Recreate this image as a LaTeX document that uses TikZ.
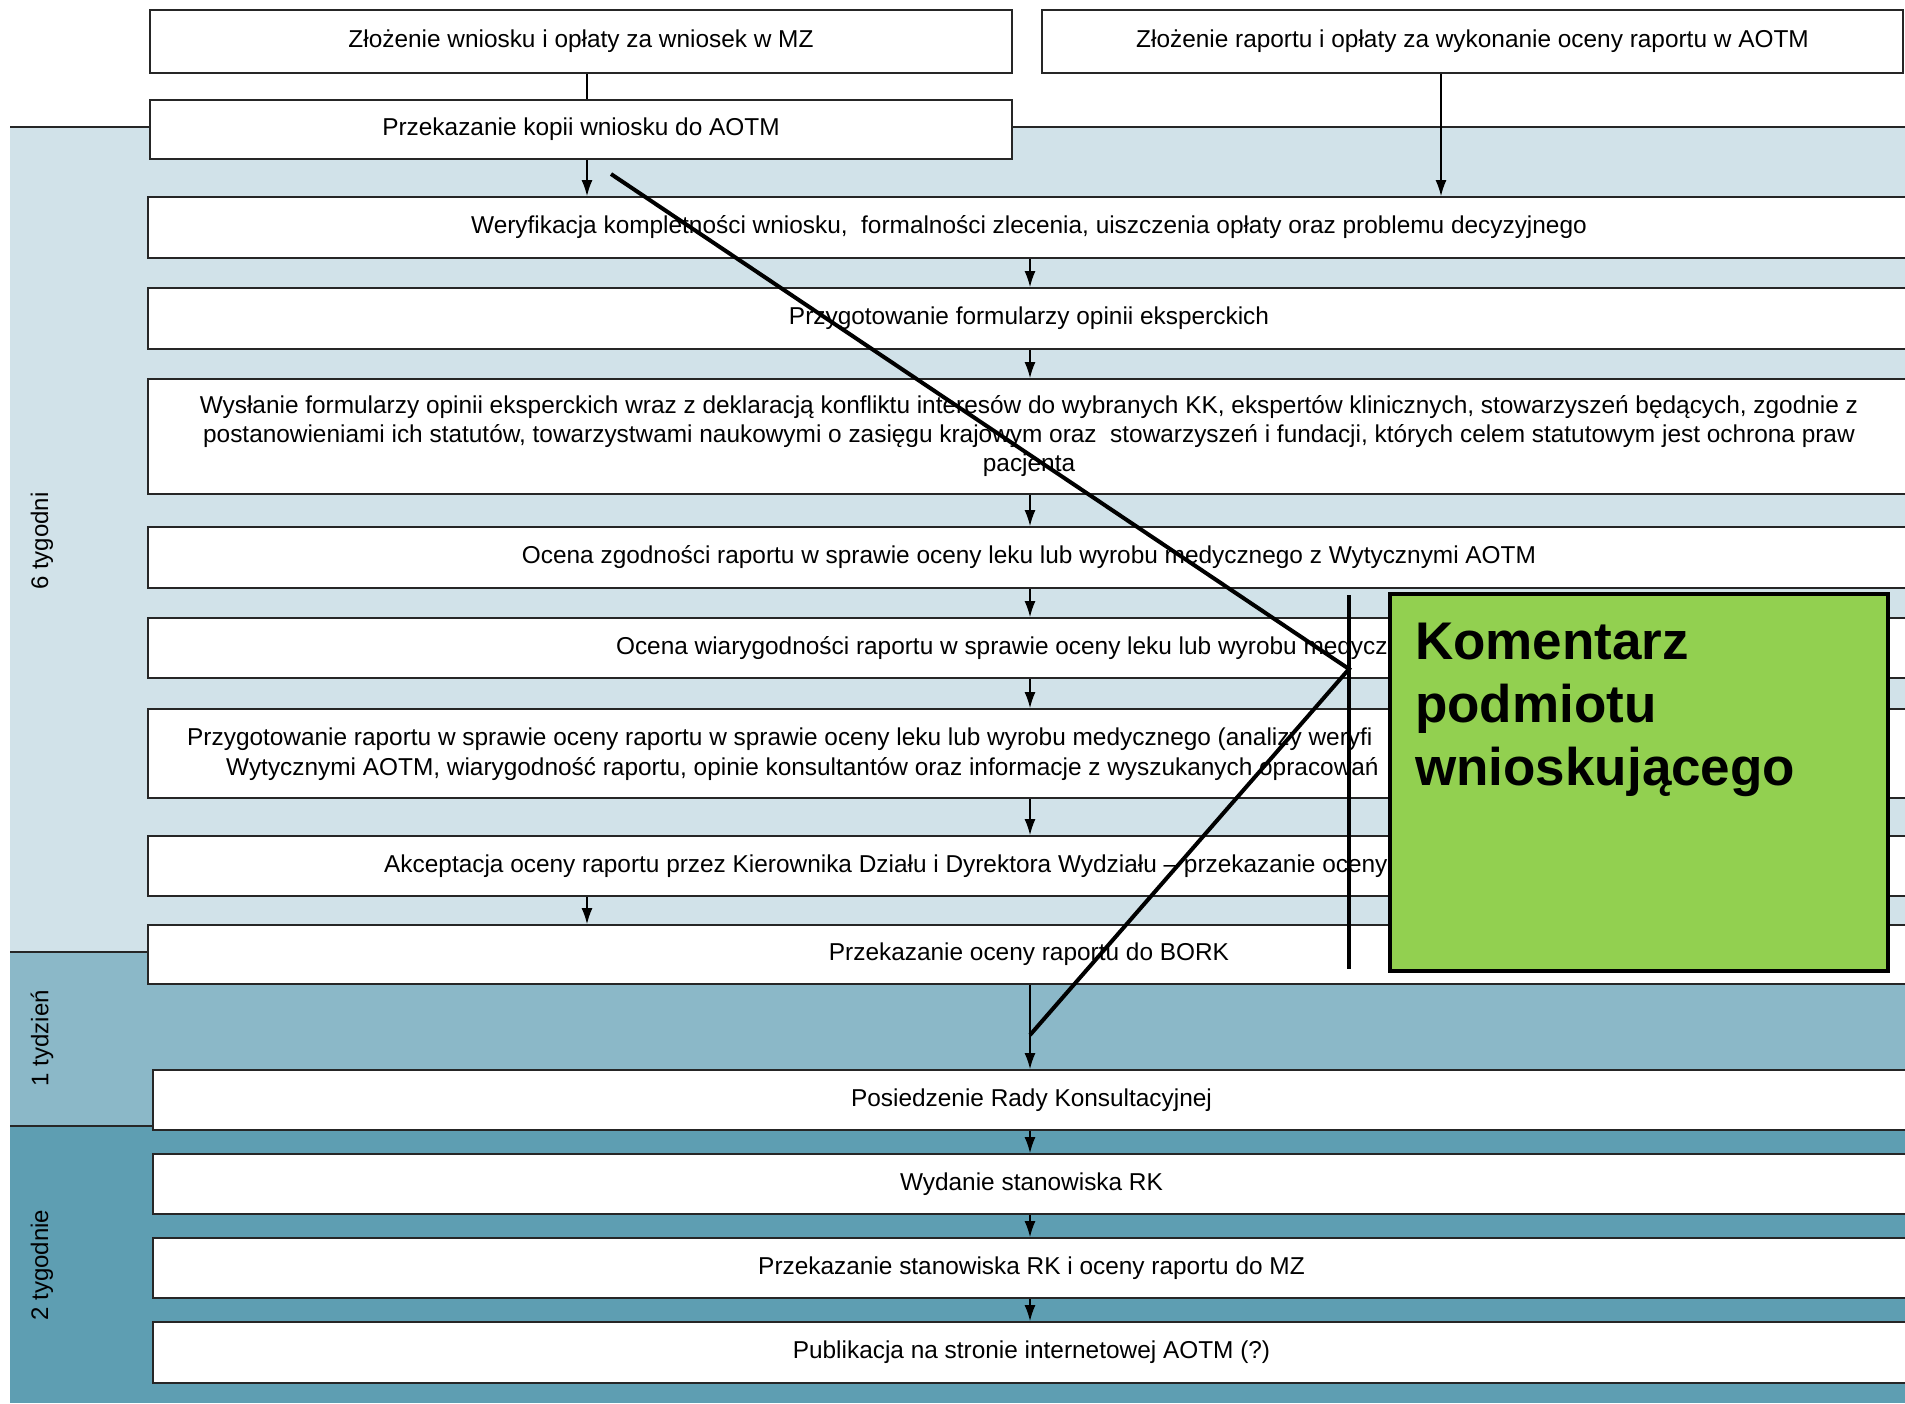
\documentclass[tikz,border=0pt]{standalone}
\usepackage{fontspec}
\setmainfont{Liberation Sans}
\usetikzlibrary{arrows.meta}
\definecolor{bandA}{HTML}{D1E2E9}
\definecolor{bandB}{HTML}{8BB8C8}
\definecolor{bandC}{HTML}{5E9EB2}
\definecolor{kgreen}{HTML}{92D050}
\definecolor{edgec}{HTML}{262626}
\begin{document}
\begin{tikzpicture}[x=1pt,y=-1pt,
  stepbox/.style={draw=edgec, line width=2pt, fill=white, inner sep=0pt, align=center, font=\fontsize{24.4}{29}\selectfont},
  boxtext/.style={inner sep=0pt, font=\fontsize{24.4}{29}\selectfont},
  flow/.style={draw=black, line width=1.2pt, -{Latex[length=16pt,width=11pt]}},
  plainline/.style={draw=black, line width=1.2pt},
  bandline/.style={draw=edgec, line width=2.5pt},
  noteline/.style={draw=black, line width=4pt},
  notebox/.style={draw=black, line width=4pt, fill=kgreen},
  notetext/.style={inner sep=0pt, font=\fontsize{53}{63}\selectfont\bfseries},
  bandlabel/.style={rotate=90, inner sep=0pt, font=\fontsize{24}{29}\selectfont}
]
\useasboundingbox (0,0) rectangle (1905,1403);
\clip (0,0) rectangle (1905,1403);
\fill[white] (0,0) rectangle (1905,1403);
% bands
\fill[bandA] (10,127) rectangle (1905,952);
\fill[bandB] (10,952) rectangle (1905,1126);
\fill[bandC] (10,1126) rectangle (1905,1403);
\draw[bandline] (10,127) -- (1905,127);
\draw[bandline] (10,952) -- (1905,952);
\draw[bandline] (10,1126) -- (1905,1126);
\node[bandlabel] (l1) at (42,541) {6 tygodni};
\node[bandlabel] (l2) at (42,1038) {1 tydzień};
\node[bandlabel] (l3) at (42,1265) {2 tygodnie};
% column coordinates
\coordinate (cL) at (587,0);
\coordinate (cM) at (1030,0);
\coordinate (cR) at (1441,0);
% boxes
\node[stepbox, minimum width=862, minimum height=63] (b1) at (581,41.5) {Złożenie wniosku i opłaty za wniosek w MZ};
\node[stepbox, minimum width=861, minimum height=63] (b2) at (1472.5,41.5) {Złożenie raportu i opłaty za wykonanie oceny raportu w AOTM};
\node[stepbox, minimum width=862, minimum height=59] (b3) at (581,129.5) {Przekazanie kopii wniosku do AOTM};
\node[stepbox, minimum width=1762, minimum height=61] (b4) at (1029,227.5) {Weryfikacja kompletności wniosku,\ \ formalności zlecenia, uiszczenia opłaty oraz problemu decyzyjnego};
\node[stepbox, minimum width=1762, minimum height=61] (b5) at (1029,318.5) {Przygotowanie formularzy opinii eksperckich};
\node[stepbox, minimum width=1762, minimum height=115] (b6) at (1029,436.5) {Wysłanie formularzy opinii eksperckich wraz z deklaracją konfliktu interesów do wybranych KK, ekspertów klinicznych, stowarzyszeń będących, zgodnie z\\postanowieniami ich statutów, towarzystwami naukowymi o zasięgu krajowym oraz\ \ stowarzyszeń i fundacji, których celem statutowym jest ochrona praw\\pacjenta};
\node[stepbox, minimum width=1762, minimum height=61] (b7) at (1029,557.5) {Ocena zgodności raportu w sprawie oceny leku lub wyrobu medycznego z Wytycznymi AOTM};
\node[stepbox, minimum width=1762, minimum height=60] (b8) at (1029,648) {Ocena wiarygodności raportu w sprawie oceny leku lub wyrobu medycznego};
\node[stepbox, minimum width=1762, minimum height=89] (b9) at (1029,753.5) {};
\node[boxtext, anchor=west] (t9a) at (187,739) {Przygotowanie raportu w sprawie oceny raportu w sprawie oceny leku lub wyrobu medycznego (analizy weryfi};
\node[boxtext, anchor=west] (t9b) at (226,769) {Wytycznymi AOTM, wiarygodność raportu, opinie konsultantów oraz informacje z wyszukanych opracowań};
\node[stepbox, minimum width=1762, minimum height=60] (b10) at (1029,866) {};
\node[boxtext, anchor=west] (t10) at (384,866) {Akceptacja oceny raportu przez Kierownika Działu i Dyrektora Wydziału – przekazanie oceny};
\node[stepbox, minimum width=1762, minimum height=59] (b11) at (1029,954.5) {Przekazanie oceny raportu do BORK};
\node[stepbox, minimum width=1757, minimum height=60] (b12) at (1031.5,1100) {Posiedzenie Rady Konsultacyjnej};
\node[stepbox, minimum width=1757, minimum height=60] (b13) at (1031.5,1184) {Wydanie stanowiska RK};
\node[stepbox, minimum width=1757, minimum height=60] (b14) at (1031.5,1268) {Przekazanie stanowiska RK i oceny raportu do MZ};
\node[stepbox, minimum width=1757, minimum height=61] (b15) at (1031.5,1352.5) {Publikacja na stronie internetowej AOTM (?)};
% connectors
\draw[plainline] (b1.south -| cL) -- (b3.north -| cL);
\draw[flow] (b3.south -| cL) -- (b4.north -| cL);
\draw[flow] (b2.south -| cR) -- (b4.north -| cR);
\draw[flow] (b4.south -| cM) -- (b5.north -| cM);
\draw[flow] (b5.south -| cM) -- (b6.north -| cM);
\draw[flow] (b6.south -| cM) -- (b7.north -| cM);
\draw[flow] (b7.south -| cM) -- (b8.north -| cM);
\draw[flow] (b8.south -| cM) -- (b9.north -| cM);
\draw[flow] (b9.south -| cM) -- (b10.north -| cM);
\draw[flow] (b10.south -| cL) -- (b11.north -| cL);
\draw[flow] (b11.south -| cM) -- (b12.north -| cM);
\draw[flow] (b12.south -| cM) -- (b13.north -| cM);
\draw[flow] (b13.south -| cM) -- (b14.north -| cM);
\draw[flow] (b14.south -| cM) -- (b15.north -| cM);
% annotation
\coordinate (n1) at (611,174);
\coordinate (n2) at (1349,669);
\coordinate (n3) at (1030,1035);
\coordinate (v1) at (1349,595);
\coordinate (v2) at (1349,969);
\draw[noteline] (n1) -- (n2) -- (n3);
\draw[noteline] (v1) -- (v2);
\node[notebox, minimum width=498, minimum height=377] (kbox) at (1639,782.5) {};
\node[notetext, anchor=base west] (k1) at (1415,659) {Komentarz};
\node[notetext, anchor=base west] (k2) at (1415,722) {podmiotu};
\node[notetext, anchor=base west] (k3) at (1415,785) {wnioskującego};
\end{tikzpicture}
\end{document}
